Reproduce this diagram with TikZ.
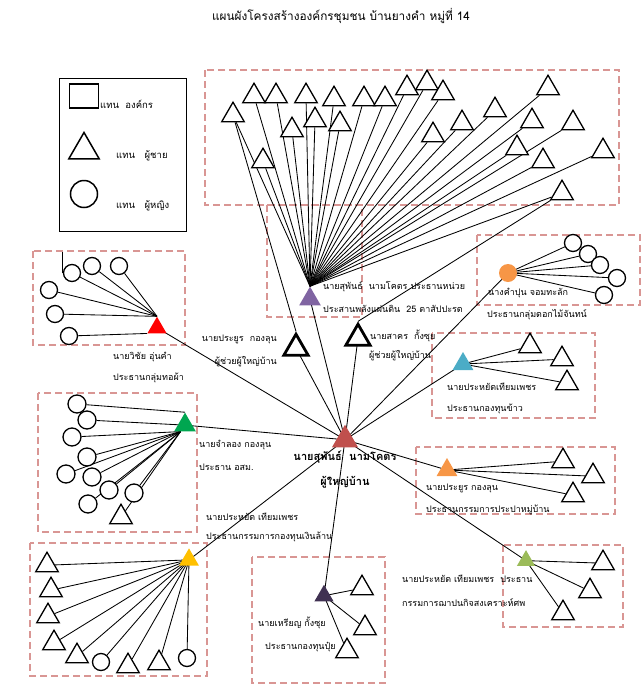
\documentclass[tikz,border=0pt]{standalone}
\usepackage{fontspec}
\newfontfamily\thai[Script=Thai]{Loma}
\usetikzlibrary{shapes.geometric,backgrounds,calc}
\definecolor{dashc}{HTML}{D99694}
\definecolor{cCentral}{HTML}{C0504D}
\definecolor{cPurple}{HTML}{8064A2}
\definecolor{cRed}{HTML}{FF0000}
\definecolor{cGreen}{HTML}{00A650}
\definecolor{cYellow}{HTML}{FFC000}
\definecolor{cNavy}{HTML}{403152}
\definecolor{cOrange}{HTML}{F79646}
\definecolor{cTeal}{HTML}{4BACC6}
\definecolor{cLime}{HTML}{9BBB59}
\tikzset{
 man/.style={regular polygon, regular polygon sides=3, draw=black, line width=1.3pt, fill=white, minimum size=26pt, inner sep=0pt, yshift=-3.2pt},
 boldman/.style={regular polygon, regular polygon sides=3, draw=black, line width=2.8pt, fill=white, minimum size=26pt, inner sep=0pt, yshift=-3.2pt},
 woman/.style={circle, draw=black, line width=1.3pt, fill=white, minimum size=17pt, inner sep=0pt},
 hub/.style={regular polygon, regular polygon sides=3, inner sep=0pt, minimum size=#1pt, yshift=-0.125*#1pt, draw=none},
 org/.style={draw=dashc, dash pattern=on 7pt off 4pt, line width=1.4pt},
 lbl/.style={font=\thai\fontsize{9}{11}\selectfont, anchor=west, inner sep=0pt},
 leglbl/.style={font=\thai\fontsize{9.5}{11}\selectfont, anchor=west, inner sep=0pt},
 link/.style={line width=0.85pt}
}
\begin{document}
\begin{tikzpicture}[x=1pt,y=-1pt]
\path[use as bounding box] (0,0) rectangle (644,694);

% title
\node[font=\thai\fontsize{11.8}{13}\selectfont, inner sep=0pt] (title) at (341,16) {แผนผังโครงสร้างองค์กรชุมชน บ้านยางคำ หมู่ที่ 14};

% legend
\draw[line width=1pt] (59,78) rectangle (186,231);
\node[draw=black, line width=1.6pt, minimum width=29pt, minimum height=24pt, inner sep=0pt] (legSq) at (84,96) {};
\node[leglbl] (legT1) at (100,104) {แทน\ \ องค์กร};
\node[regular polygon, regular polygon sides=3, draw=black, line width=1.5pt, minimum size=35pt, inner sep=0pt, yshift=-4pt] (legTri) at (84,146) {};
\node[leglbl] (legT2) at (116,156) {แทน\ \ \ ผู้ชาย};
\node[circle, draw=black, line width=1.5pt, minimum size=27pt, inner sep=0pt] (legCi) at (84,194) {};
\node[leglbl] (legT3) at (116,206) {แทน\ \ \ ผู้หญิง};

% ---------- hubs ----------
\node[hub=30, fill=cCentral] (ch) at (345,436) {};
\node[hub=25, fill=cPurple] (pur) at (310,296) {};
\node[hub=22, fill=cRed] (red) at (157,325) {};
\node[hub=25, fill=cGreen] (grn) at (185,422) {};
\node[hub=23, fill=cYellow] (yel) at (189,557) {};
\node[hub=22, fill=cNavy] (nav) at (324,593) {};
\node[hub=24, fill=cTeal] (teal) at (463,361) {};
\node[hub=24, fill=cOrange] (otri) at (447,467) {};
\node[hub=21, fill=cLime] (lime) at (526,558) {};
\node[circle, fill=cOrange, minimum size=18pt, inner sep=0pt] (ocir) at (508,273) {};

% assistants
\node[boldman, minimum size=28pt] (a1) at (296,345) {};
\node[boldman, minimum size=28pt] (a2) at (358,335) {};

% ---------- top box children ----------
\foreach \p [count=\i] in {(233,112),(254,93),(276,93),(306,93),(292,127),(263,158),(315,117),(334,96),(340,121),(364,96),(385,96),(407,85),(427,80),(443,90),(433,132),(462,120),(495,107),(548,85),(532,118),(573,120),(517,145),(543,158),(603,148),(562,190)}
  \node[man] (t\i) at \p {};

% ---------- red cluster ----------
\foreach \p [count=\i] in {(72,273),(92,266),(119,266),(49,290),(55,314),(69,336)}
  \node[woman] (r\i) at \p {};
\coordinate (stubA) at (62,252);
\coordinate (stubB) at (62,273);

% ---------- green cluster ----------
\foreach \p [count=\i] in {(77,404),(87,420),(72,437),(87,457),(66,474),(92,477),(109,490),(134,493),(88,504)}
  \node[woman, minimum size=18pt] (g\i) at \p {};
\node[man] (gt) at (121,514) {};

% ---------- yellow cluster ----------
\node[man] (y1) at (47,562) {};
\node[man] (y2) at (51,587) {};
\node[man] (y3) at (48,613) {};
\node[man] (y4) at (54,640) {};
\node[man] (y5) at (77,653) {};
\node[woman] (y6) at (101,662) {};
\node[man] (y7) at (128,663) {};
\node[man] (y8) at (159,660) {};
\node[woman] (y9) at (187,658) {};

% ---------- navy cluster ----------
\node[man] (n1) at (362,585) {};
\node[man] (n2) at (365,625) {};
\node[man] (n3) at (347,648) {};

% ---------- orange circle cluster ----------
\foreach \p [count=\i] in {(573,243),(588,254),(600,265),(617,278),(604,295)}
  \node[woman] (o\i) at \p {};

% ---------- teal cluster ----------
\node[man] (e1) at (530,343) {};
\node[man] (e2) at (562,356) {};
\node[man] (e3) at (567,380) {};

% ---------- orange triangle cluster ----------
\node[man] (p1) at (563,458) {};
\node[man] (p2) at (593,473) {};
\node[man] (p3) at (573,492) {};

% ---------- lime cluster ----------
\node[man] (l1) at (603,560) {};
\node[man] (l2) at (590,588) {};
\node[man] (l3) at (563,610) {};

% ---------- labels ----------
\node[lbl] (lpur1) at (323,287) {นายสุพันธ์\ \ นามโคตร ประธานหน่วย};
\node[lbl] (lpur2) at (323,309) {ประสานพลังแผ่นดิน\ \ 25 ตาสัปปะรด};
\node[lbl] (la21) at (370,336) {นายสาคร\ \ กั้งซุย};
\node[lbl] (la22) at (369,356) {ผู้ช่วยผู้ใหญ่บ้าน};
\node[lbl, anchor=east] (la11) at (277,339) {นายประยูร\ \ กองลุน};
\node[lbl, anchor=east] (la12) at (277,362) {ผู้ช่วยผู้ใหญ่บ้าน};
\node[lbl] (lred1) at (113,357) {นายวิชัย อุ่นคำ};
\node[lbl] (lred2) at (113,378) {ประธานกลุ่มทอผ้า};
\node[lbl] (loc1) at (488,293) {นางคำปุน จอมทะลัก};
\node[lbl] (loc2) at (487,315) {ประธานกลุ่มดอกไม้จันทน์};
\node[lbl] (lte1) at (447,387) {นายประหยัดเทียมเพชร};
\node[lbl] (lte2) at (447,409) {ประธานกองทุนข้าว};
\node[lbl] (lgr1) at (199,445) {นายจำลอง กองลุน};
\node[lbl] (lgr2) at (199,467) {ประธาน อสม.};
\node[font=\thai\bfseries\fontsize{11}{13}\selectfont, inner sep=0pt] (lch1) at (345,457) {นายสุพันธ์\ \ นามโคตร};
\node[font=\thai\bfseries\fontsize{11}{13}\selectfont, inner sep=0pt] (lch2) at (345,482) {ผู้ใหญ่บ้าน};
\node[lbl] (lye1) at (206,517) {นายประหยัด เทียมเพชร};
\node[lbl] (lye2) at (206,537) {ประธานกรรมการกองทุนเงินล้าน};
\node[lbl] (lot1) at (426,488) {นายประยูร กองลุน};
\node[lbl] (lot2) at (426,510) {ประธานกรรมการประปาหมู่บ้าน};
\node[lbl] (lli1) at (402,579) {นายประหยัด เทียมเพชร\ \ ประธาน};
\node[lbl] (lli2) at (402,603) {กรรมการฌาปนกิจสงเคราะห์ศพ};
\node[lbl] (lna1) at (258,623) {นายเหรียญ กั้งซุย};
\node[lbl] (lna2) at (265,647) {ประธานกองทุนปุ๋ย};

% ---------- background: boxes and connectors ----------
\begin{pgfonlayer}{background}
 \draw[org] (205,70) rectangle (619,205);
 \draw[org] (267,205) rectangle (362,317);
 \draw[org] (33,251) rectangle (185,345);
 \draw[org] (38,393) rectangle (197,532);
 \draw[org] (30,543) rectangle (207,676);
 \draw[org] (252,557) rectangle (385,683);
 \draw[org] (477,235) rectangle (640,305);
 \draw[org] (432,333) rectangle (595,418);
 \draw[org] (416,447) rectangle (615,514);
 \draw[org] (503,545) rectangle (623,627);

 % central links
 \foreach \n in {pur,red,grn,yel,nav,teal,otri,lime,ocir,a1,a2}
   \draw[link] (ch.center) -- (\n.center);

 % purple fan
 \foreach \i in {1,...,24}
   \draw[link] (pur.corner 1) -- (t\i);
 \draw[link] (a1.corner 1) -- (t1);
 \draw[link] (a2.corner 1) -- (t24);

 % red
 \foreach \i in {1,...,5} \draw[link] (red.corner 1) -- (r\i);
 \draw[link] (red.corner 2) -- (r6);
 \draw[link] (stubA) -- (stubB);

 % green
 \draw[link] (grn.corner 1) -- (g1);
 \draw[link] (grn.center) -- (g2);
 \foreach \i in {3,...,9} \draw[link] ($(grn.corner 2)!0.3!(grn.corner 3)$) -- (g\i);
 \draw[link] ($(grn.corner 2)!0.3!(grn.corner 3)$) -- (gt);

 % yellow
 \foreach \i in {1,...,9} \draw[link] (yel.center) -- (y\i);

 % navy
 \foreach \i in {1,2,3} \draw[link] (nav.center) -- (n\i);
 % orange circle
 \foreach \i in {1,...,5} \draw[link] (ocir.center) -- (o\i);
 % teal
 \foreach \i in {1,2,3} \draw[link] (teal.center) -- (e\i);
 % orange triangle
 \foreach \i in {1,2,3} \draw[link] (otri.center) -- (p\i);
 % lime
 \foreach \i in {1,2,3} \draw[link] (lime.center) -- (l\i);
\end{pgfonlayer}
\end{tikzpicture}
\end{document}
